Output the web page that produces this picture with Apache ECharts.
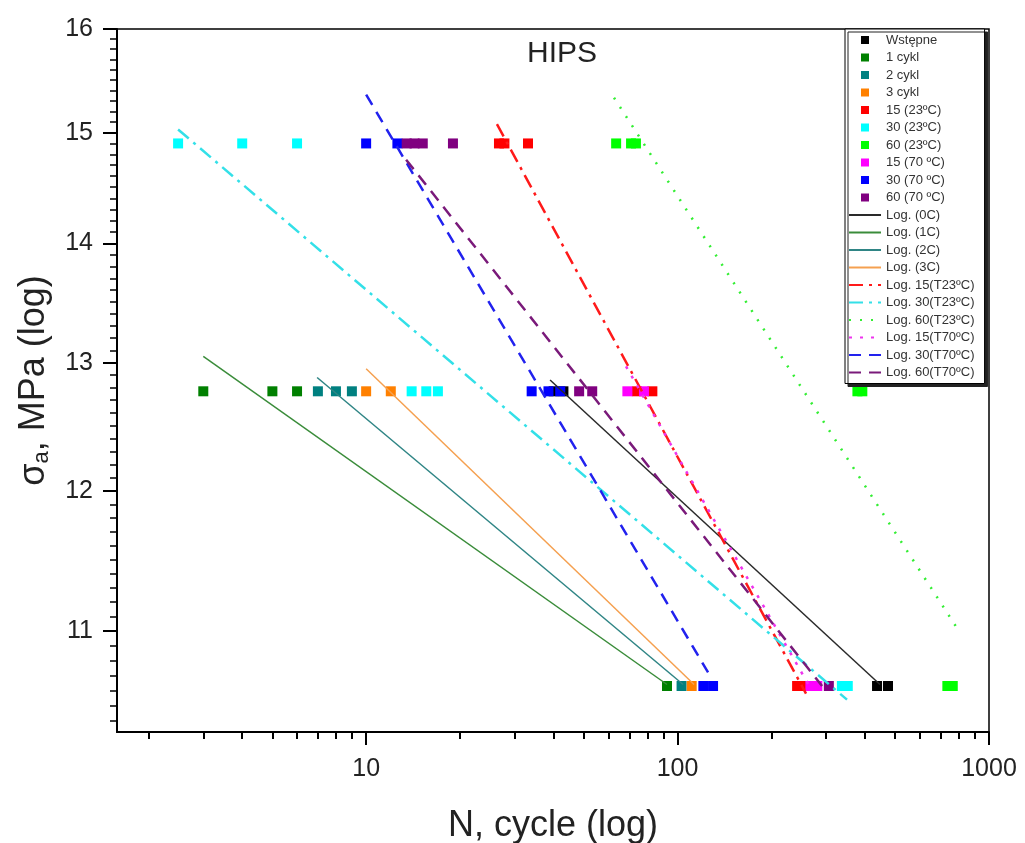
<!DOCTYPE html>
<html>
<head>
<meta charset="utf-8">
<script src="https://cdn.jsdelivr.net/npm/echarts@6/dist/echarts.min.js"></script>
<style>
  html, body { margin: 0; background: #fff; }
  #main { width: 1025px; height: 843px; }
</style>
</head>
<body>
<div id="main"></div>
<script>
// pomiary: [N, sigma_a]
var ptsWstepne = [[40, 12.77], [43, 12.77], [437, 10.63], [474, 10.63]];
var pts1cykl = [[3.0, 12.77], [5.0, 12.77], [6.0, 12.77], [92.5, 10.63]];
var pts2cykl = [[7.0, 12.77], [8.0, 12.77], [9.0, 12.77], [103, 10.63]];
var pts3cykl = [[10, 12.77], [12, 12.77], [111, 10.63]];
var pts15t23 = [[26.7, 14.9], [27.8, 14.9], [33.1, 14.9], [74, 12.77], [83, 12.77], [242, 10.63], [250, 10.63]];
var pts30t23 = [[2.49, 14.9], [4.0, 14.9], [6.0, 14.9], [14, 12.77], [15.6, 12.77], [17, 12.77], [337, 10.63], [352, 10.63]];
var pts60t23 = [[63.5, 14.9], [70.9, 14.9], [73.5, 14.9], [378, 12.77], [392, 12.77], [735, 10.63], [765, 10.63]];
var pts15t70 = [[69, 12.77], [78, 12.77], [267, 10.63], [281, 10.63]];
var pts30t70 = [[10, 14.9], [12.6, 14.9], [34, 12.77], [38.5, 12.77], [42, 12.77], [121, 10.63], [130, 10.63]];
var pts60t70 = [[13.5, 14.9], [14.3, 14.9], [15.2, 14.9], [19.0, 14.9], [48.3, 12.77], [53.2, 12.77], [306, 10.63]];

var pointNames = ['Wstępne', '1 cykl', '2 cykl', '3 cykl', '15 (23ºC)', '30 (23ºC)', '60 (23ºC)', '15 (70 ºC)', '30 (70 ºC)', '60 (70 ºC)'];
var pointColors = ['#000000', '#008000', '#008080', '#ff8000', '#ff0000', '#00ffff', '#00ff00', '#ff00ff', '#0000ff', '#800080'];
var pointSets = [ptsWstepne, pts1cykl, pts2cykl, pts3cykl, pts15t23, pts30t23, pts60t23, pts15t70, pts30t70, pts60t70];

// linie trendu (log-log), poczatek i koniec
var fit0C = [[38.96, 12.86], [446.7, 10.64]];
var fit1C = [[3.0, 13.05], [92.5, 10.64]];
var fit2C = [[6.96, 12.88], [104.2, 10.64]];
var fit3C = [[10, 12.95], [113, 10.64]];
var fit15t23 = [[26.3, 15.08], [258.5, 10.58]];
var fit30t23 = [[2.49, 15.03], [350, 10.54]];
var fit60t23 = [[62.5, 15.33], [789.6, 11.02]];
var fit15t70 = [[68.3, 12.97], [270, 10.60]];
var fit30t70 = [[10, 15.36], [125.3, 10.72]];
var fit60t70 = [[13.44, 14.75], [291, 10.63]];

var fitNames = ['Log. (0C)', 'Log. (1C)', 'Log. (2C)', 'Log. (3C)', 'Log. 15(T23ºC)', 'Log. 30(T23ºC)', 'Log. 60(T23ºC)', 'Log. 15(T70ºC)', 'Log. 30(T70ºC)', 'Log. 60(T70ºC)'];
var fitColors = ['#2a2a2a', '#3a8c3a', '#2f8585', '#f5a050', '#ff1a1a', '#33e0e8', '#33ee33', '#ee33ee', '#2222ee', '#7a1a7a'];
var fitDash = ['solid', 'solid', 'solid', 'solid', [14, 6, 3, 6], [14, 6, 3, 6], [2, 9], [3, 8], [12, 8], [12, 8]];
var fitWidth = [1.5, 1.5, 1.5, 1.5, 2.5, 2.5, 2.5, 2.5, 2.5, 2.5];
var fitSets = [fit0C, fit1C, fit2C, fit3C, fit15t23, fit30t23, fit60t23, fit15t70, fit30t70, fit60t70];

var xTicks = [10, 100, 1000];
var yTicks = [11, 12, 13, 14, 15, 16];
var xMin = 1.585, xMax = 1000;
var yMin = 10.33, yMax = 16;

var FONT = 'Liberation Sans, Arial, sans-serif';
var lg = function (v) { return Math.log10(v); };
var toLog = function (arr) { return arr.map(function (p) { return [lg(p[0]), lg(p[1])]; }); };

// podzialki pomocnicze
var xMinor = [];
[1, 10, 100].forEach(function (d) {
  for (var k = 2; k <= 9; k++) { if (k * d >= xMin) xMinor.push(lg(k * d)); }
});
var yMinor = [];
for (var i = 104; i < 160; i++) {
  if (i % 10 !== 0) yMinor.push(lg(i / 10));
}

var series = [];
pointSets.forEach(function (pts, i) {
  series.push({
    name: pointNames[i],
    type: 'scatter',
    symbol: 'rect',
    symbolSize: 10,
    itemStyle: { color: pointColors[i], opacity: 1 },
    z: 2,
    data: toLog(pts)
  });
});
fitSets.forEach(function (pts, i) {
  series.push({
    name: fitNames[i],
    type: 'line',
    symbol: 'none',
    showSymbol: false,
    itemStyle: { color: fitColors[i] },
    lineStyle: { color: fitColors[i], width: fitWidth[i], type: fitDash[i] },
    z: 3,
    data: toLog(pts)
  });
});

var legendData = pointNames.map(function (n) {
  return { name: n, icon: 'path://M0 0H10V10H0Z' };
}).concat(fitNames.map(function (n) {
  return { name: n, itemStyle: { color: 'rgba(0,0,0,0)', borderWidth: 0 } };
}));

var chart = echarts.init(document.getElementById('main'));
chart.setOption({
  animation: false,
  backgroundColor: '#fff',
  title: {
    text: 'HIPS',
    left: 522,
    top: 34,
    textStyle: { fontFamily: FONT, fontSize: 30, fontWeight: 'normal', color: '#222' }
  },
  legend: {
    orient: 'vertical',
    left: 845,
    top: 29,
    padding: [4, 10, 4, 3],
    itemWidth: 32,
    itemHeight: 8,
    itemGap: 3.5,
    backgroundColor: '#fff',
    borderColor: '#000',
    borderWidth: 1,
    shadowColor: '#222',
    shadowBlur: 0,
    shadowOffsetX: 3,
    shadowOffsetY: 3,
    textStyle: { fontFamily: FONT, fontSize: 13, lineHeight: 14, color: '#333' },
    data: legendData
  },
  grid: {
    left: 117, right: 36, top: 29, bottom: 111,
    outerBoundsMode: 'none',
    show: true, borderColor: '#000', borderWidth: 1.5
  },
  xAxis: [{
    type: 'value',
    min: lg(xMin), max: lg(xMax),
    name: 'N, cycle (log)',
    nameLocation: 'middle',
    nameGap: 76,
    nameTextStyle: { fontFamily: FONT, fontSize: 36, color: '#222' },
    axisLine: { onZero: false, lineStyle: { color: '#000', width: 2 } },
    axisTick: { customValues: xTicks.map(lg), length: 13, lineStyle: { color: '#000', width: 2 } },
    axisLabel: {
      customValues: xTicks.map(lg), margin: 25,
      fontFamily: FONT, fontSize: 25, color: '#222',
      formatter: function (v) { return String(Math.round(Math.pow(10, v))); }
    },
    splitLine: { show: false }
  }, {
    type: 'value',
    position: 'bottom',
    min: lg(xMin), max: lg(xMax),
    axisLine: { show: false, onZero: false },
    axisTick: { customValues: xMinor, length: 7, lineStyle: { color: '#000', width: 2 } },
    axisLabel: { show: false },
    splitLine: { show: false }
  }],
  yAxis: [{
    type: 'value',
    min: lg(yMin), max: lg(yMax),
    name: '{s|σ}{a|a}{s|, MPa (log)}',
    nameLocation: 'middle',
    nameGap: 64,
    nameTextStyle: {
      fontFamily: FONT, fontSize: 36, color: '#222',
      rich: {
        s: { fontFamily: FONT, fontSize: 36, color: '#222' },
        a: { fontFamily: FONT, fontSize: 22, color: '#222', padding: [16, 0, 0, 0] }
      }
    },
    axisLine: { onZero: false, lineStyle: { color: '#000', width: 2 } },
    axisTick: { customValues: yTicks.map(lg), length: 14, lineStyle: { color: '#000', width: 2 } },
    axisLabel: {
      customValues: yTicks.map(lg), margin: 24,
      fontFamily: FONT, fontSize: 25, color: '#222',
      formatter: function (v) { return String(Math.round(Math.pow(10, v))); }
    },
    splitLine: { show: false }
  }, {
    type: 'value',
    position: 'left',
    min: lg(yMin), max: lg(yMax),
    axisLine: { show: false, onZero: false },
    axisTick: { customValues: yMinor, length: 7, lineStyle: { color: '#000', width: 1.5 } },
    axisLabel: { show: false },
    splitLine: { show: false }
  }],
  series: series
});
</script>
</body>
</html>
